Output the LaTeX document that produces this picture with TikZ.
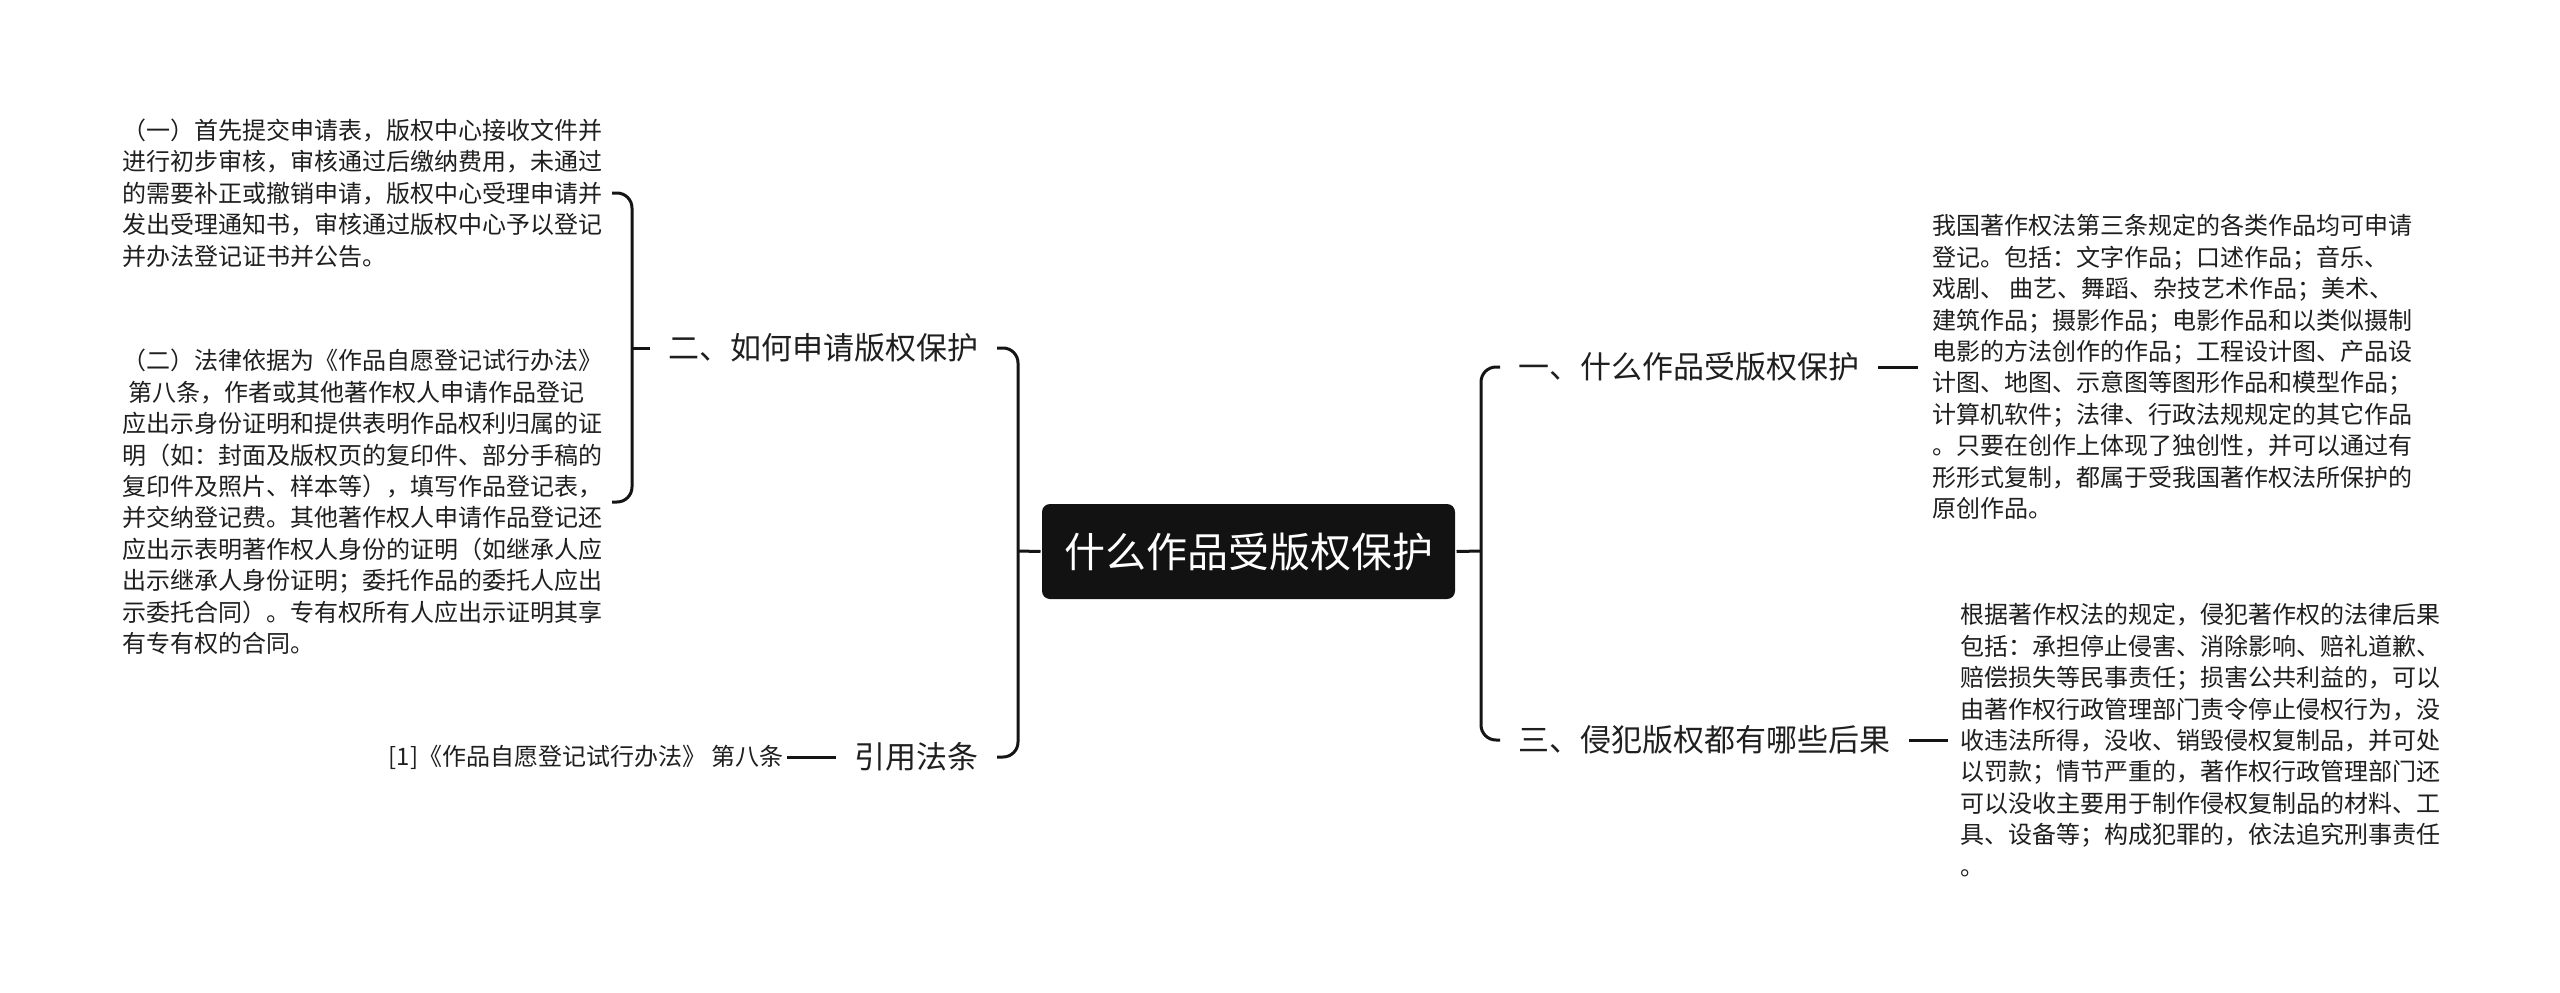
\documentclass[tikz,border=0pt]{standalone}
\usepackage{fontspec}
\setmainfont{Noto Sans CJK SC}

\begin{document}
\begin{tikzpicture}[x=1pt, y=-1pt, line width=3pt, line join=round,
  conn/.style={draw=black!92, line width=3pt, rounded corners=15pt},
  rootbox/.style={fill=black!93, text=white, rounded corners=8pt, minimum width=413pt, minimum height=95pt, inner sep=0pt, font=\fontsize{41}{41}\selectfont},
  topic/.style={text=black!88, inner xsep=17pt, inner ysep=4pt, font=\fontsize{31}{31}\selectfont},
  leaf/.style={text=black!88, align=left, inner xsep=8pt, inner ysep=2pt, font=\fontsize{24}{31.4}\selectfont}]

  %% ════ 画布底色 ════
  \fill[white] (0,0) rectangle (2560,993);

  %% ════ 中心主题 ════
  \node[rootbox] (root) at (1248.5,551.5) {什么作品受版权保护};

  %% ════ 一级分支 ════
  \node[topic, anchor=east] (apply) at (997,348) {二、如何申请版权保护};
  \node[topic, anchor=east] (cite)  at (997,757) {引用法条};
  \node[topic, anchor=west] (works) at (1500,367) {一、什么作品受版权保护};
  \node[topic, anchor=west] (harm)  at (1500,740) {三、侵犯版权都有哪些后果};

  %% ════ 叶子文本（逐行断开，与原图换行一致）════
  \node[leaf, anchor=east] (step1) at (612,193) {%
    （一）首先提交申请表，版权中心接收文件并\\
    进行初步审核，审核通过后缴纳费用，未通过\\
    的需要补正或撤销申请，版权中心受理申请并\\
    发出受理通知书，审核通过版权中心予以登记\\
    并办法登记证书并公告。};
  \node[leaf, anchor=east] (step2) at (612,502) {%
    （二）法律依据为《作品自愿登记试行办法》\\
    \hspace*{6pt}第八条，作者或其他著作权人申请作品登记\\
    应出示身份证明和提供表明作品权利归属的证\\
    明（如：封面及版权页的复印件、部分手稿的\\
    复印件及照片、样本等），填写作品登记表，\\
    并交纳登记费。其他著作权人申请作品登记还\\
    应出示表明著作权人身份的证明（如继承人应\\
    出示继承人身份证明；委托作品的委托人应出\\
    示委托合同）。专有权所有人应出示证明其享\\
    有专有权的合同。};
  \node[leaf, anchor=east, inner xsep=2pt] (law) at (787,757) {[1]《作品自愿登记试行办法》 第八条};
  \node[leaf, anchor=west, inner xsep=13pt] (worksTxt) at (1918,367) {%
    我国著作权法第三条规定的各类作品均可申请\\
    登记。包括：文字作品；口述作品；音乐、\\
    戏剧、 曲艺、舞蹈、杂技艺术作品；美术、\\
    建筑作品；摄影作品；电影作品和以类似摄制\\
    电影的方法创作的作品；工程设计图、产品设\\
    计图、地图、示意图等图形作品和模型作品；\\
    计算机软件；法律、行政法规规定的其它作品\\
    。只要在创作上体现了独创性，并可以通过有\\
    形形式复制，都属于受我国著作权法所保护的\\
    原创作品。};
  \node[leaf, anchor=west, inner xsep=11pt] (harmTxt) at (1948,740) {%
    根据著作权法的规定，侵犯著作权的法律后果\\
    包括：承担停止侵害、消除影响、赔礼道歉、\\
    赔偿损失等民事责任；损害公共利益的，可以\\
    由著作权行政管理部门责令停止侵权行为，没\\
    收违法所得，没收、销毁侵权复制品，并可处\\
    以罚款；情节严重的，著作权行政管理部门还\\
    可以没收主要用于制作侵权复制品的材料、工\\
    具、设备等；构成犯罪的，依法追究刑事责任\\
    。};

  %% ════ 脊线位置 ════
  \coordinate (spL1) at (632,551);
  \coordinate (spL2) at (1018,551);
  \coordinate (spR)  at (1481,551);

  %% ════ 连线 ════
  \draw[conn] (step1.east) -| (spL1 |- apply.west) |- (step2.east);
  \draw[conn] (apply.west) -- (spL1 |- apply.west);
  \draw[conn] (apply.east) -| (spL2) |- (cite.east);
  \draw[conn] (root.west) -- (spL2);
  \draw[conn] (works.west) -| (spR) |- (harm.west);
  \draw[conn] (root.east) -- (spR);
  \draw[conn] (works.east) -- (worksTxt.west);
  \draw[conn] (harm.east) -- (harmTxt.west);
  \draw[conn] (law.east) -- (cite.west);

  % 钉死画布
  \pgfresetboundingbox
  \path[use as bounding box] (0,0) rectangle (2560,993);
\end{tikzpicture}
\end{document}
